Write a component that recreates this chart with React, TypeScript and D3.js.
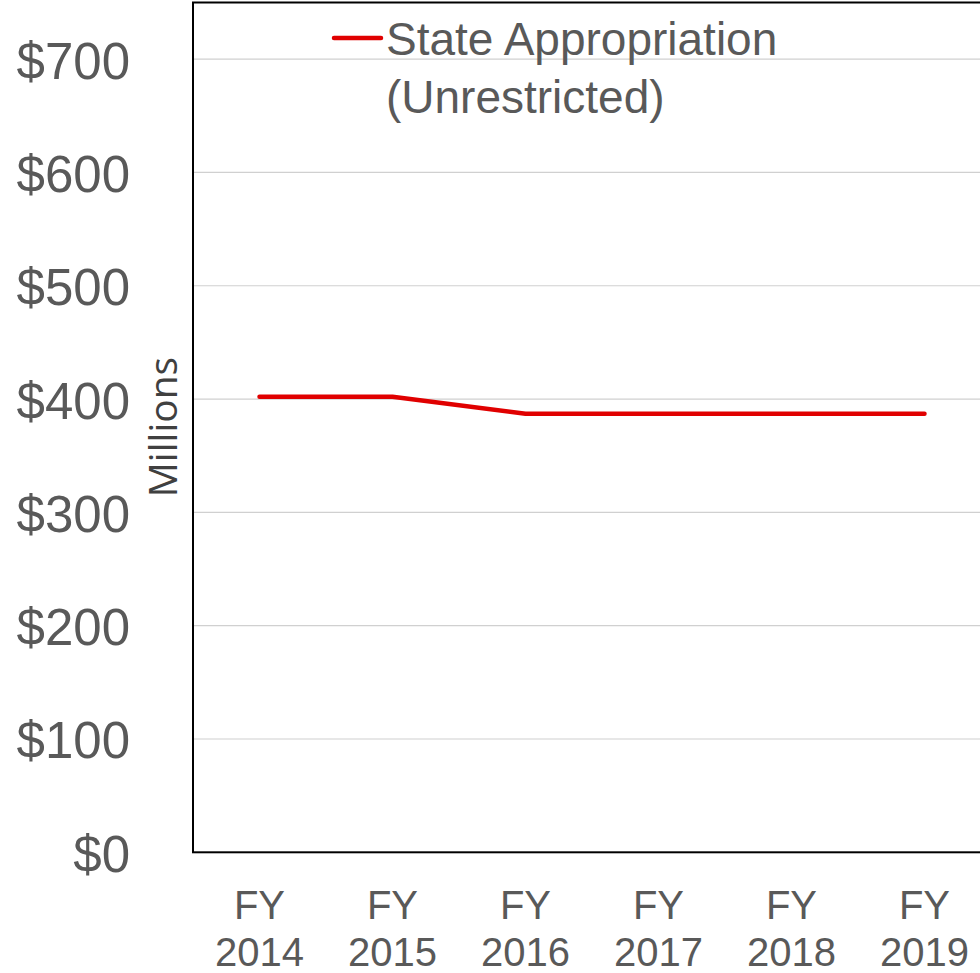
import * as d3 from 'd3';

const years = ['2014', '2015', '2016', '2017', '2018', '2019'];
const appropriation = [402, 402, 387, 387, 387, 387];
const yTicks = [0, 100, 200, 300, 400, 500, 600, 700];

export default function App() {
  const width = 980, height = 973;
  const left = 193, right = 991, top = 2.5, bottom = 852.3;

  const x = d3.scaleBand().domain(years).range([left, right]);
  const y = d3.scaleLinear().domain([0, 750]).range([bottom, top]);
  const cx = (d: string) => (x(d) ?? 0) + x.bandwidth() / 2;

  const line = d3.line<number>()
    .x((_, i) => cx(years[i]))
    .y(d => y(d));

  const grey = '#595959';
  const font = '"Liberation Sans", Arial, sans-serif';

  return (
    <svg width={width} height={height}
      style={{ position: 'absolute', left: 0, top: 0, background: '#fff' }}>
      {yTicks.filter(t => t > 0).map(t => (
        <line key={t} x1={left} x2={right} y1={y(t)} y2={y(t)} stroke="#d0d0d0" strokeWidth={1.2} />
      ))}
      <rect x={left} y={top} width={right - left} height={bottom - top}
        fill="none" stroke="#000" strokeWidth={2} />

      {yTicks.map(t => (
        <text key={t} x={130} y={y(t) + 2} textAnchor="end" dominantBaseline="central"
          fontFamily={font} fontSize={51} fill={grey}>${t}</text>
      ))}

      <text transform="translate(177,427) rotate(-90)" textAnchor="middle"
        fontFamily='"Open Sans", sans-serif' fontSize={39} fill="#404040">Millions</text>

      {years.map(yr => (
        <g key={yr} fontFamily={font} fontSize={40} fill={grey} textAnchor="middle">
          <text x={cx(yr)} y={919}>FY</text>
          <text x={cx(yr)} y={966}>{yr}</text>
        </g>
      ))}

      <path d={line(appropriation) ?? ''} fill="none" stroke="#e00000" strokeWidth={4.5}
        strokeLinecap="round" strokeLinejoin="round" />

      <line x1={334} x2={381} y1={38} y2={38} stroke="#e00000" strokeWidth={4.5} strokeLinecap="round" />
      <text fontFamily={font} fontSize={46} fill={grey}>
        <tspan x={386} y={55}>State Appropriation</tspan>
        <tspan x={386} y={113}>(Unrestricted)</tspan>
      </text>
    </svg>
  );
}
